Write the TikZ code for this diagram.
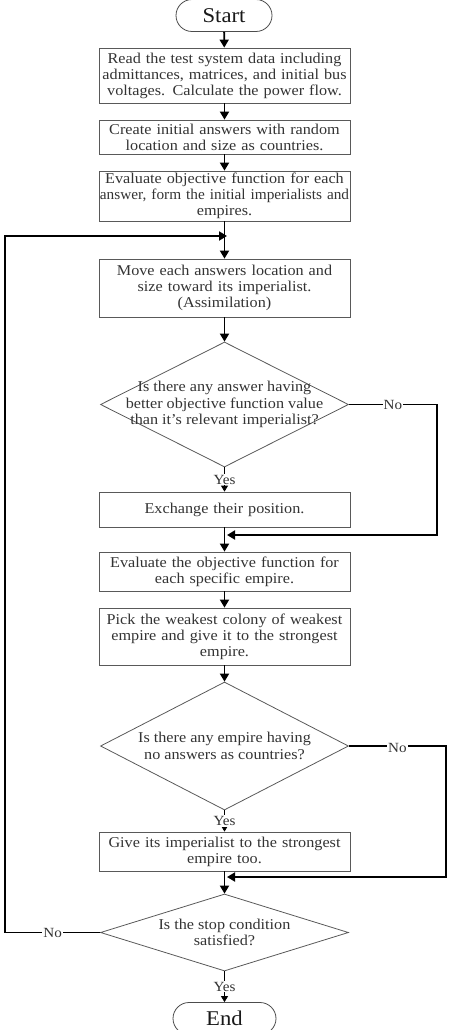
\documentclass[tikz,border=0pt]{standalone}
\usepackage{fontspec}
\setmainfont[FakeStretch=1.08]{Liberation Serif}
\usetikzlibrary{arrows.meta,positioning,shapes.geometric,shapes.misc}

\tikzset{
  term/.style={draw=black!70,line width=0.8pt,rounded rectangle,minimum height=32pt,
    inner sep=0pt,font=\fontsize{21}{24}\selectfont,text=black!90},
  proc/.style={draw=black!65,line width=0.8pt,rectangle,minimum width=251pt,
    text width=265pt,align=center,inner xsep=-7pt,inner ysep=0pt,
    font=\fontsize{15}{16}\selectfont,text=black!80},
  decision/.style={draw=black!65,line width=0.8pt,diamond,minimum width=248pt,inner sep=0pt},
  dtext/.style={align=center,inner sep=0pt,font=\fontsize{15}{16.5}\selectfont,text=black!80},
  flow/.style={line width=1.8pt,-{Triangle[width=9pt,length=8pt]}},
  yesflow/.style={line width=0.8pt,-{Triangle[width=7pt,length=6pt]}},
  answer/.style={fill=white,inner sep=1pt,font=\fontsize{14}{15}\selectfont,text=black!80}
}

\begin{document}
\begin{tikzpicture}[x=1pt,y=-1pt]
  \useasboundingbox (0,0) rectangle (451,1030);
  % main column
  \node[term,minimum width=96pt] (start) at (224,15.5) {Start};
  \node[proc,minimum height=55pt] (read) at (224.5,75.5)
    {Read the test system data including\\ admittances, matrices, and initial bus\\ voltages. Calculate the power flow.};
  \node[proc,minimum height=34pt] (create) at (224.5,137)
    {Create initial answers with random\\ location and size as countries.};
  \node[proc,minimum height=50pt] (eval) at (224.5,196)
    {Evaluate objective function for each\\ {\addfontfeature{FakeStretch=1.02}answer, form the initial imperialists and}\\ empires.};
  \node[proc,minimum height=58pt] (move) at (224.5,288)
    {Move each answers location and\\ size toward its imperialist.\\ (Assimilation)};
  \node[decision,minimum height=125pt] (better) at (224.5,404.5) {};
  \node[dtext] (bettertxt) at (better)
    {Is there any answer having\\ better objective function value\\ than it’s relevant imperialist?};
  \node[proc,minimum height=35pt] (exch) at (224.5,509.5) {Exchange their position.};
  \node[proc,minimum height=39pt] (evalemp) at (224.5,571.5)
    {Evaluate the objective function for\\ each specific empire.};
  \node[proc,minimum height=57pt] (pick) at (224.5,636.5)
    {Pick the weakest colony of weakest\\ empire and give it to the strongest\\ empire.};
  \node[decision,minimum height=128pt] (empty) at (224.5,746) {};
  \node[dtext] (emptytxt) at (empty) {Is there any empire having\\ no answers as countries?};
  \node[proc,minimum height=39pt] (give) at (224.5,851.5)
    {Give its imperialist to the strongest\\ empire too.};
  \node[decision,minimum height=77pt] (stop) at (224.5,932.5) {};
  \node[dtext] (stoptxt) at (stop) {Is the stop condition\\ satisfied?};
  \node[term,minimum width=103pt] (end) at (224.5,1018.5) {End};

  % join points
  \coordinate (back) at (227,236);
  \coordinate (merge1) at (227,535);
  \coordinate (merge2) at (227,877);

  % arrows
  \draw[flow] (start) -- (read);
  \draw[flow] (read) -- (create);
  \draw[flow] (create) -- (eval);
  \draw[flow] (eval) -- (move);
  \draw[flow] (move) -- (better);
  \draw[yesflow] (better) -- node[answer] (yes1) {Yes} (exch);
  \draw[flow] (exch) -- (evalemp);
  \draw[flow] (evalemp) -- (pick);
  \draw[flow] (pick) -- (empty);
  \draw[yesflow] (empty) -- node[answer] (yes2) {Yes} (give);
  \draw[flow] (give) -- (stop);
  \draw[yesflow] (stop) -- node[answer] (yes3) {Yes} (end);

  % loops
  \draw[flow] (better.east) -- node[answer] (no1) {No} ++(88,0) |- (merge1);
  \draw[flow] (empty.east) -- node[answer,yshift=-2pt] (no2) {No} ++(97,0) |- (merge2);
  \draw[flow] (stop.west) -- node[answer] (no3) {No} ++(-95,0) |- (back);
\end{tikzpicture}
\end{document}
